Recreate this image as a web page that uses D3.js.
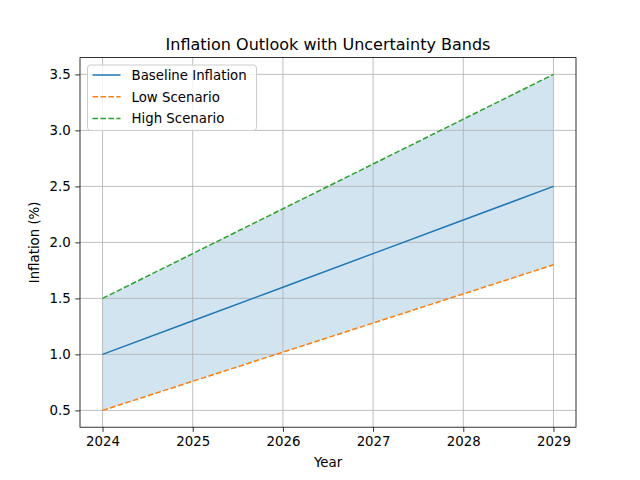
<!DOCTYPE html>
<html><head><meta charset="utf-8">
<script src="https://cdn.jsdelivr.net/npm/d3@7"></script>
<style>body{margin:0;background:#fff}svg{display:block;font-family:"DejaVu Sans",sans-serif}</style>
</head><body>
<script>
const years = [2024, 2025, 2026, 2027, 2028, 2029];
const baseline = [1.0, 1.3, 1.6, 1.9, 2.2, 2.5];
const low = [0.5, 0.76, 1.02, 1.28, 1.54, 1.8];
const high = [1.5, 1.9, 2.3, 2.7, 3.1, 3.5];
const yTicks = [0.5, 1.0, 1.5, 2.0, 2.5, 3.0, 3.5];
const seriesNames = ["Baseline Inflation", "Low Scenario", "High Scenario"];
const colors = ["#1f77b4", "#ff7f0e", "#2ca02c"];

const W = 640, H = 480;
const L = 80, R = 576, T = 57.6, B = 427.2;
const svg = d3.select("body").append("svg").attr("width", W).attr("height", H);

const x = d3.scaleLinear().domain([2023.75, 2029.25]).range([L, R]);
const y = d3.scaleLinear().domain([0.35, 3.65]).range([B, T]);

const data = years.map((yr, i) => ({yr, b: baseline[i], lo: low[i], hi: high[i]}));

// fill
svg.append("path").datum(data)
  .attr("d", d3.area().x(d => x(d.yr)).y0(d => y(d.lo)).y1(d => y(d.hi)))
  .attr("fill", "#1f77b4").attr("fill-opacity", 0.2);

// grid
const g = svg.append("g");
years.forEach(v => g.append("line").attr("x1", x(v)).attr("x2", x(v)).attr("y1", T).attr("y2", B)
  .attr("stroke", "#b0b0b0").attr("stroke-width", 0.8));
yTicks.forEach(v => g.append("line").attr("y1", y(v)).attr("y2", y(v)).attr("x1", L).attr("x2", R)
  .attr("stroke", "#b0b0b0").attr("stroke-width", 0.8));

// lines
const line = key => d3.line().x(d => x(d.yr)).y(d => y(d[key]));
svg.append("path").datum(data).attr("d", line("b")).attr("fill", "none")
  .attr("stroke", colors[0]).attr("stroke-width", 1.5);
svg.append("path").datum(data).attr("d", line("lo")).attr("fill", "none")
  .attr("stroke", colors[1]).attr("stroke-width", 1.5).attr("stroke-dasharray", "5.55,2.4");
svg.append("path").datum(data).attr("d", line("hi")).attr("fill", "none")
  .attr("stroke", colors[2]).attr("stroke-width", 1.5).attr("stroke-dasharray", "5.55,2.4");

// axes
const xa = svg.append("g").attr("transform", `translate(0,${B})`)
  .call(d3.axisBottom(x).tickValues(years).tickFormat(d3.format("d")).tickSize(4.67).tickPadding(4.67));
const ya = svg.append("g").attr("transform", `translate(${L},0)`)
  .call(d3.axisLeft(y).tickValues(yTicks).tickFormat(d3.format(".1f")).tickSize(4.67).tickPadding(4.67));
[xa, ya].forEach(a => {
  a.select(".domain").remove();
  a.selectAll("line").attr("stroke", "#000").attr("stroke-width", 0.8);
  a.selectAll("text").attr("font-size", "13.33px").attr("font-family", "DejaVu Sans").attr("fill", "#000");
});
svg.append("rect").attr("x", L).attr("y", T).attr("width", R - L).attr("height", B - T)
  .attr("fill", "none").attr("stroke", "#000").attr("stroke-width", 0.8);

// labels
svg.append("text").attr("x", (L + R) / 2).attr("y", 49.5).attr("text-anchor", "middle")
  .attr("font-size", "16px").text("Inflation Outlook with Uncertainty Bands");
svg.append("text").attr("x", (L + R) / 2).attr("y", 467).attr("text-anchor", "middle")
  .attr("font-size", "13.33px").text("Year");
svg.append("text").attr("transform", `translate(39,${(T + B) / 2}) rotate(-90)`).attr("text-anchor", "middle")
  .attr("font-size", "13.33px").text("Inflation (%)");

// legend
const lg = svg.append("g");
lg.append("rect").attr("x", 87.5).attr("y", 65).attr("width", 169).attr("height", 65.5).attr("rx", 3)
  .attr("fill", "#fff").attr("fill-opacity", 0.8).attr("stroke", "#cccccc").attr("stroke-width", 1);
seriesNames.forEach((n, i) => {
  const cy = 75 + i * 21.7;
  const ln = lg.append("line").attr("x1", 92.5).attr("x2", 120.5).attr("y1", cy).attr("y2", cy)
    .attr("stroke", colors[i]).attr("stroke-width", 1.5);
  if (i > 0) ln.attr("stroke-dasharray", "5.55,2.4");
  lg.append("text").attr("x", 131.5).attr("y", cy + 4.8).attr("font-size", "13.33px").text(n);
});
</script>
</body></html>
